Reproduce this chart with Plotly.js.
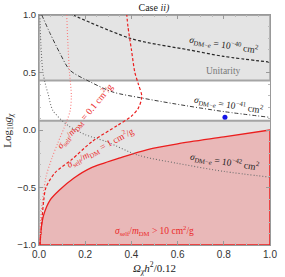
<!DOCTYPE html>
<html><head><meta charset="utf-8">
<script src="https://cdn.plot.ly/plotly-3.0.1.min.js"></script>
<style>html,body{margin:0;padding:0;background:#fff}#c{width:285px;height:277px}</style>
</head><body><div id="c"></div>
<script>
// Bands
const unitarityMin = 0.43;
const lowerBandMax = 0.08;
// sigma_DM-e contours
const s40x = [0.147,0.25,0.39,0.47,0.64,0.8,1.0];
const s40y = [1.0,0.91,0.80,0.76,0.70,0.64,0.59];
const s41x = [0.012,0.048,0.09,0.134,0.22,0.32,0.44,0.58,0.8,1.0];
const s41y = [1.0,0.84,0.67,0.52,0.42,0.33,0.28,0.23,0.16,0.11];
const s42x = [0.004,0.008,0.017,0.03,0.04,0.06,0.125,0.2,0.29,0.43,0.6,0.8,1.0];
const s42y = [1.0,0.75,0.5,0.38,0.31,0.17,0.04,-0.04,-0.10,-0.22,-0.29,-0.36,-0.41];
// sigma_self/m_DM contours
const self01x = [0.002,0.008,0.03,0.055,0.082,0.117,0.135,0.14,0.132,0.125,0.12];
const self01y = [-1.0,-0.75,-0.41,-0.25,-0.11,0.06,0.17,0.3,0.5,0.75,1.0];
const self1x = [0.004,0.012,0.02,0.03,0.07,0.14,0.23,0.34,0.40,0.43,0.445,0.43,0.415,0.4,0.385,0.38];
const self1y = [-1.0,-0.8,-0.62,-0.5,-0.37,-0.26,-0.10,0.04,0.12,0.19,0.29,0.4,0.5,0.7,0.9,1.0];
const self10x = [0.004,0.01,0.02,0.048,0.09,0.15,0.225,0.355,0.47,0.6,0.8,1.0];
const self10y = [-1.0,-0.85,-0.74,-0.61,-0.52,-0.42,-0.33,-0.24,-0.17,-0.12,-0.06,0.0];
// benchmark point
const ptX = [0.805];
const ptY = [0.11];
const yMin = -1.0;

const serif = "Liberation Serif, Times New Roman, serif";
const red = 'rgb(235,30,30)';

const traces = [
  {x: self10x, y: self10y, mode:'lines', line:{color:'rgba(0,0,0,0)', width:0, shape:'spline', smoothing:0.8}, hoverinfo:'skip'},
  {x: self10x, y: self10x.map(()=>yMin), mode:'lines', fill:'tonexty', fillcolor:'rgb(233,184,184)',
   line:{color:red, width:1.5}, hoverinfo:'skip'},
  {x: self10x, y: self10y, mode:'lines', line:{color:red, width:1.3, shape:'spline', smoothing:0.8}},
  {x: [1.0,1.0], y: [self10y[self10y.length-1], yMin], mode:'lines', line:{color:red, width:1.5}},
  {x: s40x, y: s40y, mode:'lines', line:{color:'rgb(40,40,40)', width:1.2, dash:'3px,2px', shape:'spline', smoothing:0.8}},
  {x: s41x, y: s41y, mode:'lines', line:{color:'rgb(60,60,60)', width:1, dash:'4px,2px,1px,2px', shape:'spline', smoothing:0.8}},
  {x: s42x, y: s42y, mode:'lines', line:{color:'rgb(110,110,110)', width:1.1, dash:'1px,2px', shape:'spline', smoothing:0.8}},
  {x: self01x, y: self01y, mode:'lines', line:{color:'rgb(250,120,120)', width:1.1, dash:'1px,2px', shape:'spline', smoothing:0.8}},
  {x: self1x, y: self1y, mode:'lines', line:{color:red, width:1.2, dash:'3px,2px', shape:'spline', smoothing:0.8}},
  {x: ptX, y: ptY, mode:'markers', marker:{color:'rgb(20,20,230)', size:5}}
];

const lab = (x,y,t,ang,col)=>({x:x,y:y,xref:'x',yref:'y',text:t,showarrow:false,textangle:ang,
  font:{family:serif,size:9.5,color:col}});
const sig = "<i>σ</i><sub>DM−<i>e</i></sub> = 10";
const layout = {
  width:285, height:277, margin:{l:39,r:15,t:15,b:32},
  paper_bgcolor:'#fff', plot_bgcolor:'#fff', showlegend:false,
  title:{text:"Case <i>ii)</i>", font:{family:serif,size:10,color:'#222'}, x:0.54, xanchor:'center', y:0.985, yanchor:'top'},
  xaxis:{range:[0,1], dtick:0.2, tickformat:'.1f', showgrid:false, zeroline:false,
    ticks:'inside', ticklen:4, tickcolor:'#999', showline:true, linecolor:'#999', linewidth:1, mirror:'allticks',
    minor:{dtick:0.05, ticks:'inside', ticklen:2, tickcolor:'#bbb'},
    tickfont:{family:'Liberation Sans, Arial, sans-serif', size:10, color:'#333'},
    title:{text:"<i>Ω<sub>χ</sub>h</i><sup>2</sup>/0.12", font:{family:serif,size:11,color:'#222'}, standoff:4}},
  yaxis:{range:[-1,1], dtick:0.5, tickformat:'.1f', showgrid:false, zeroline:false,
    ticks:'inside', ticklen:4, tickcolor:'#999', showline:true, linecolor:'#999', linewidth:1, mirror:'allticks',
    minor:{dtick:0.1, ticks:'inside', ticklen:2, tickcolor:'#bbb'},
    tickfont:{family:'Liberation Sans, Arial, sans-serif', size:9.5, color:'#333'}},
  shapes:[
    {type:'rect', xref:'x', yref:'y', x0:0, x1:1, y0:unitarityMin, y1:1, layer:'below',
     fillcolor:'rgb(228,228,228)', line:{width:0}},
    {type:'rect', xref:'x', yref:'y', x0:0, x1:1, y0:yMin, y1:lowerBandMax, layer:'below',
     fillcolor:'rgb(228,228,228)', line:{width:0}},
    {type:'line', xref:'x', yref:'y', x0:0, x1:1, y0:unitarityMin, y1:unitarityMin, layer:'below', line:{color:'rgb(165,165,165)', width:2}},
    {type:'line', xref:'x', yref:'y', x0:0, x1:1, y0:lowerBandMax, y1:lowerBandMax, layer:'below', line:{color:'rgb(165,165,165)', width:2}},
    {type:'line', xref:'x', yref:'y', x0:0, x1:1, y0:1, y1:1, layer:'below', line:{color:'rgb(165,165,165)', width:2}},
    {type:'line', xref:'x', yref:'y', x0:0, x1:0, y0:yMin, y1:1, layer:'below', line:{color:'rgb(165,165,165)', width:1.5}},
    {type:'line', xref:'x', yref:'y', x0:1, x1:1, y0:unitarityMin, y1:1, layer:'below', line:{color:'rgb(165,165,165)', width:1.5}}
  ],
  annotations:[
    {x:-0.135, y:0.5, xref:'paper', yref:'paper', xanchor:'center', yanchor:'middle', showarrow:false, textangle:-90,
     text:"Log<sub>10</sub><i>g<sub>χ</sub></i>", font:{family:serif,size:11,color:'#222'}},
    lab(0.80,0.74, sig+"<sup>−40</sup> cm<sup>2</sup>", 9, '#222'),
    lab(0.80,0.51, "Unitarity", 0, 'rgb(120,120,120)'),
    lab(0.82,0.225, sig+"<sup>−41</sup> cm<sup>2</sup>", 9, '#222'),
    lab(0.805,-0.27, sig+"<sup>−42</sup> cm<sup>2</sup>", 9, '#222'),
    lab(0.195,0.12, "<i>σ</i><sub>self</sub>/<i>m</i><sub>DM</sub> = 0.1 cm<sup>2</sup>/g", -50, 'rgb(235,40,40)'),
    lab(0.265,-0.15, "<i>σ</i><sub>self</sub>/<i>m</i><sub>DM</sub> = 1 cm<sup>2</sup>/g", -28, 'rgb(235,40,40)'),
    lab(0.5,-0.87, "<i>σ</i><sub>self</sub>/<i>m</i><sub>DM</sub> > 10 cm<sup>2</sup>/g", 0, 'rgb(235,40,40)')
  ]
};
Plotly.newPlot('c', traces, layout, {staticPlot:true, displayModeBar:false});
</script></body></html>
